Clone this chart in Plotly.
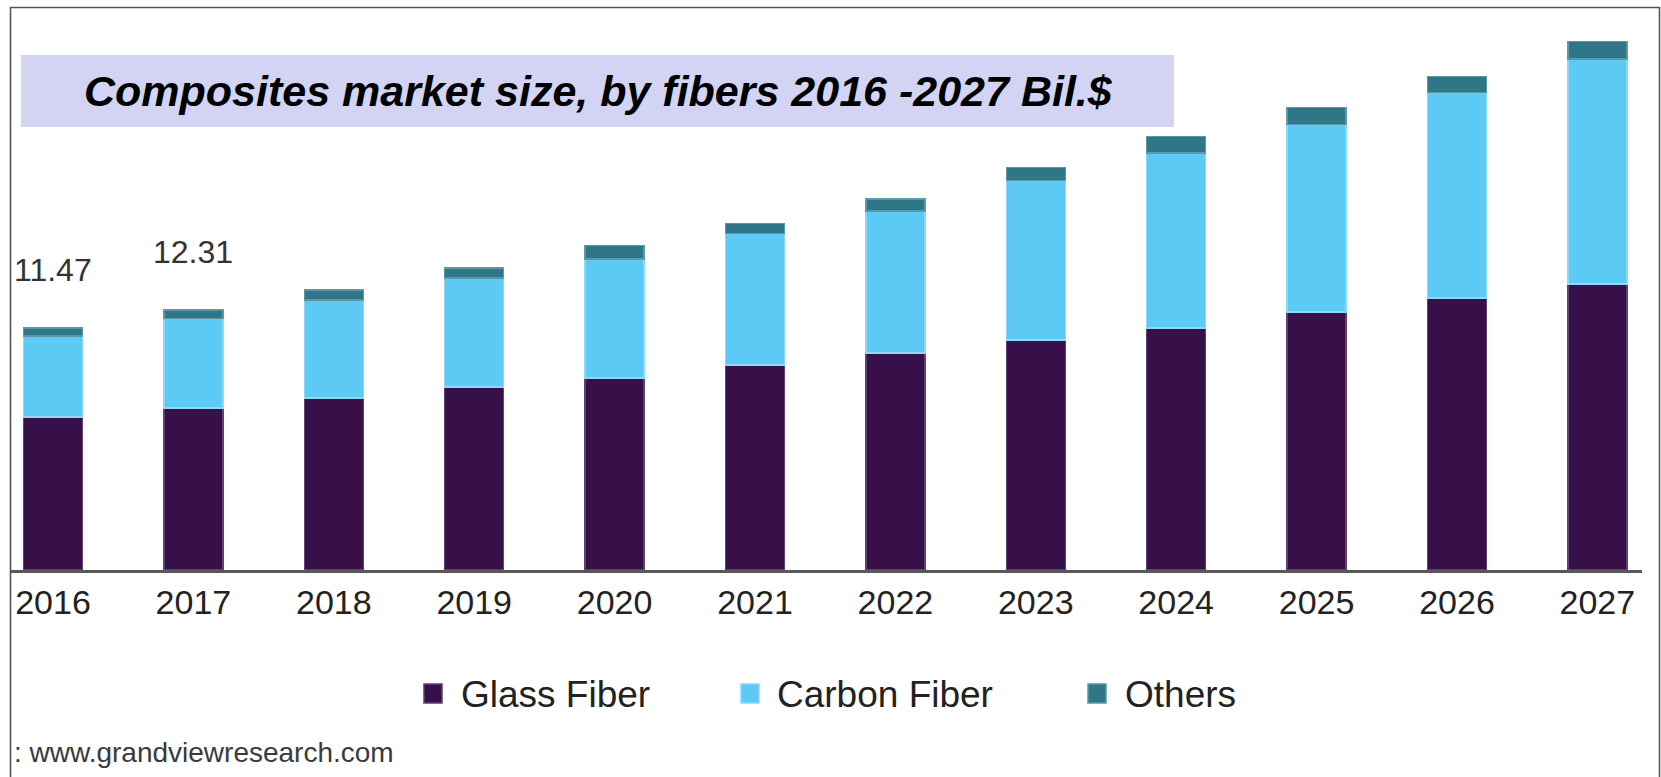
import plotly.graph_objects as go

# Composites market size by fiber type, billion USD
years = ["2016", "2017", "2018", "2019", "2020", "2021",
         "2022", "2023", "2024", "2025", "2026", "2027"]
glass_fiber = [7.25, 7.68, 8.15, 8.67, 9.10, 9.72, 10.28, 10.90, 11.47, 12.23, 12.89, 13.55]
carbon_fiber = [3.84, 4.22, 4.64, 5.17, 5.64, 6.21, 6.73, 7.54, 8.29, 8.86, 9.72, 10.66]
others = [0.38, 0.41, 0.47, 0.47, 0.62, 0.47, 0.57, 0.62, 0.76, 0.81, 0.76, 0.81]
labeled_years = ["2016", "2017"]

series_names = ["Glass Fiber", "Carbon Fiber", "Others"]
series_colors = ["#37104A", "#5DCAF5", "#2F7788"]
edge_colors = ["#5D4272", "#8BD8F7", "#5E97A5"]

title_text = "Composites market size, by fibers 2016 -2027 Bil.$"
source_text = ": www.grandviewresearch.com"

FONT = "Liberation Sans, Arial, sans-serif"

# page / plot geometry (pixels)
W, H = 1661, 777
M_L, M_R, M_T, M_B = 10, 19, 21, 207
PW = W - M_L - M_R
PH = H - M_T - M_B
Y_MAX = 26


def px_x(p):
    return (p - M_L) / PW


def px_y(p):
    return (H - M_B - p) / PH


fig = go.Figure()
for name, vals, col, edge in zip(series_names, [glass_fiber, carbon_fiber, others],
                                 series_colors, edge_colors):
    fig.add_trace(go.Bar(
        x=years, y=vals, name=name, width=0.42,
        marker=dict(color=col, line=dict(color=edge, width=1.5)),
        showlegend=False,
    ))

# value labels above the first two stacks
for yr in labeled_years:
    i = years.index(yr)
    total = glass_fiber[i] + carbon_fiber[i] + others[i]
    fig.add_annotation(
        x=i, y=total, xref="x", yref="y", text=f"{total:.2f}",
        showarrow=False, xanchor="center", yanchor="middle", yshift=58,
        font=dict(family=FONT, size=32, color="#333333"),
    )

shapes = []
# outer frame (left, top, right)
shapes.append(dict(type="path", xref="paper", yref="paper",
                   path=f"M {px_x(10.5)},{px_y(777)} L {px_x(10.5)},{px_y(7.5)} "
                        f"L {px_x(1659.5)},{px_y(7.5)} L {px_x(1659.5)},{px_y(777)}",
                   line=dict(color="#555555", width=1.6), layer="above"))
# title banner
shapes.append(dict(type="rect", xref="paper", yref="paper",
                   x0=px_x(21), x1=px_x(1174), y0=px_y(127), y1=px_y(55),
                   fillcolor="#D3D3F3", line=dict(width=0), layer="below"))

fig.add_annotation(
    xref="paper", yref="paper", x=px_x(598), y=px_y(91),
    text=f"<b><i>{title_text}</i></b>", showarrow=False,
    xanchor="center", yanchor="middle",
    font=dict(family=FONT, size=43, color="#000000"),
)

# legend drawn as swatches + labels
legend_pos = [(424, 459), (741, 775), (1088, 1123)]
for (sx, tx), name, col, edge in zip(legend_pos, series_names, series_colors, edge_colors):
    shapes.append(dict(type="rect", xref="paper", yref="paper",
                       x0=px_x(sx), x1=px_x(sx + 18), y0=px_y(703), y1=px_y(684),
                       fillcolor=col, line=dict(color=edge, width=1.5)))
    fig.add_annotation(
        xref="paper", yref="paper", x=px_x(tx), y=px_y(694),
        text=name, showarrow=False, xanchor="left", yanchor="middle",
        font=dict(family=FONT, size=37, color="#222222"),
    )

fig.add_annotation(
    xref="paper", yref="paper", x=px_x(12), y=px_y(752),
    text=source_text, showarrow=False, xanchor="left", yanchor="middle",
    font=dict(family=FONT, size=28, color="#3a3a3a"),
)

fig.update_layout(
    template="none",
    width=W, height=H,
    margin=dict(l=M_L, r=M_R, t=M_T, b=M_B),
    paper_bgcolor="#FFFFFF", plot_bgcolor="#FFFFFF",
    barmode="stack",
    shapes=shapes,
    xaxis=dict(
        type="category", range=[-0.3063, 11.318],
        showgrid=False, zeroline=False,
        showline=True, linecolor="#595959", linewidth=2.5,
        ticks="", tickfont=dict(family=FONT, size=34, color="#222222"),
        fixedrange=True,
    ),
    yaxis=dict(range=[0, Y_MAX], showticklabels=False, showline=False, ticks="",
               showgrid=False, zeroline=False, fixedrange=True),
)

fig.write_html("out.html")
